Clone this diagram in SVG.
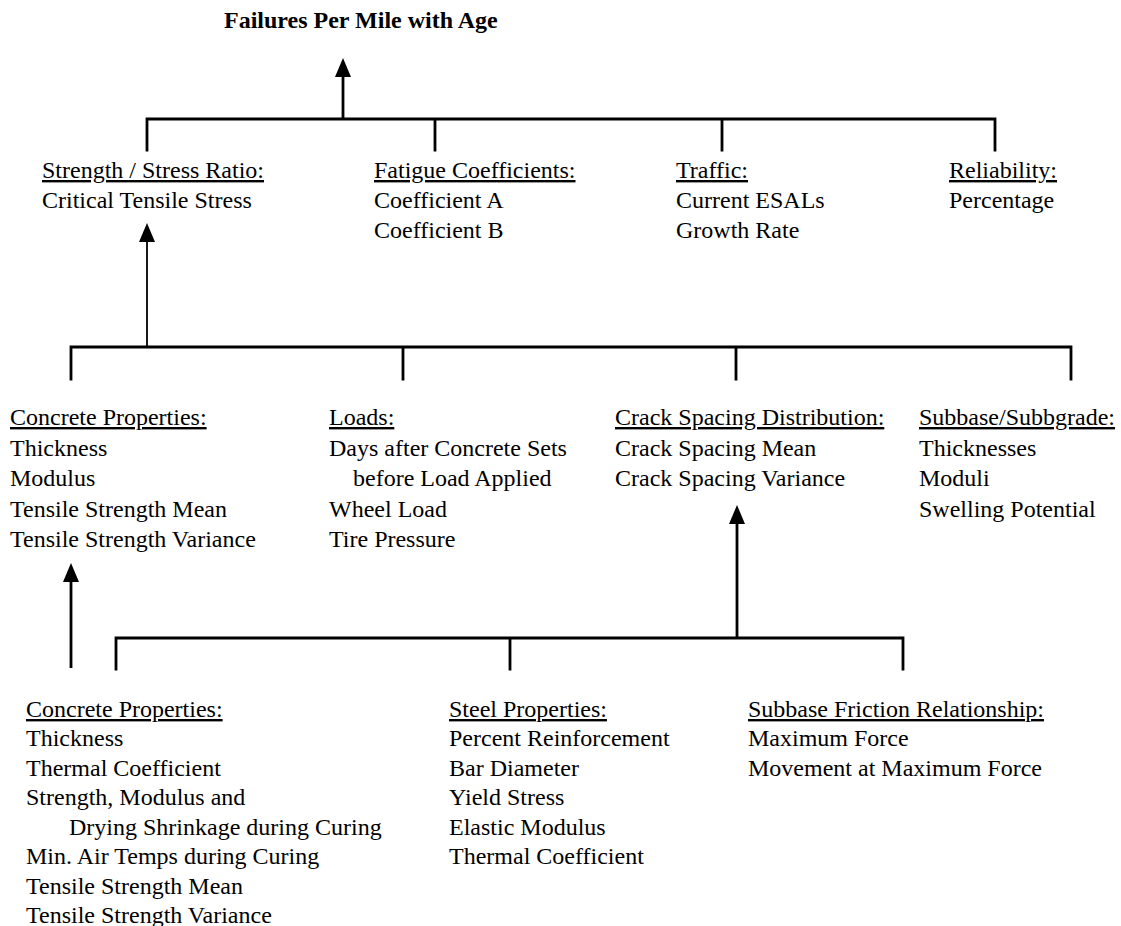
<svg xmlns="http://www.w3.org/2000/svg" width="1121" height="926" viewBox="0 0 1121 926">
<style>
text { font-family: "Liberation Serif", "Times New Roman", serif; font-size: 24px; fill: #000; }
.title { font-weight: bold; }
.hd { text-decoration: underline; }
.bar { fill: none; stroke: #000; stroke-width: 2.8; stroke-linejoin: miter; stroke-linecap: square; }
.arr { fill: none; stroke: #000; stroke-width: 2.8; marker-end: url(#ah); }
.arr.thin { stroke-width: 1.8; }
</style>
<defs>
<marker id="ah" markerUnits="userSpaceOnUse" markerWidth="20" markerHeight="16" refX="0" refY="8" orient="auto" overflow="visible">
<path d="M0,0 L19,8 L0,16 Z" fill="#000"/>
</marker>
</defs>
<rect width="1121" height="926" fill="#fff"/>
<g id="connectors">
<line class="arr" x1="343" y1="119" x2="343" y2="77"/>
<path class="bar" d="M147,150 V119 H995 V150 M435,119 V150 M722,119 V150"/>
<line class="arr thin" x1="147" y1="347" x2="147" y2="242"/>
<path class="bar" d="M71,379 V347 H1071 V379 M403,347 V379 M736,347 V379"/>
<line class="arr" x1="737" y1="638" x2="737" y2="524"/>
<line class="arr" x1="71" y1="668" x2="71" y2="582"/>
<path class="bar" d="M116,669 V638 H903 V669 M510,638 V669"/>
</g>
<g id="n-title"><text class="title" x="224" y="28">Failures Per Mile with Age</text></g>
<g id="n-strength">
<text class="hd" x="42" y="178">Strength / Stress Ratio:</text>
<text x="42" y="208">Critical Tensile Stress</text>
</g>
<g id="n-fatigue">
<text class="hd" x="374" y="178">Fatigue Coefficients:</text>
<text x="374" y="208">Coefficient A</text>
<text x="374" y="238">Coefficient B</text>
</g>
<g id="n-traffic">
<text class="hd" x="676" y="178">Traffic:</text>
<text x="676" y="208">Current ESALs</text>
<text x="676" y="238">Growth Rate</text>
</g>
<g id="n-reliability">
<text class="hd" x="949" y="178">Reliability:</text>
<text x="949" y="208">Percentage</text>
</g>
<g id="n-concrete1">
<text class="hd" x="10" y="425">Concrete Properties:</text>
<text x="10" y="456">Thickness</text>
<text x="10" y="486">Modulus</text>
<text x="10" y="517">Tensile Strength Mean</text>
<text x="10" y="547">Tensile Strength Variance</text>
</g>
<g id="n-loads">
<text class="hd" x="329" y="425">Loads:</text>
<text x="329" y="456">Days after Concrete Sets</text>
<text x="353" y="486">before Load Applied</text>
<text x="329" y="517">Wheel Load</text>
<text x="329" y="547">Tire Pressure</text>
</g>
<g id="n-crack">
<text class="hd" x="615" y="425">Crack Spacing Distribution:</text>
<text x="615" y="456">Crack Spacing Mean</text>
<text x="615" y="486">Crack Spacing Variance</text>
</g>
<g id="n-subgrade">
<text class="hd" x="919" y="425">Subbase/Subbgrade:</text>
<text x="919" y="456">Thicknesses</text>
<text x="919" y="486">Moduli</text>
<text x="919" y="517">Swelling Potential</text>
</g>
<g id="n-concrete2">
<text class="hd" x="26" y="717">Concrete Properties:</text>
<text x="26" y="746">Thickness</text>
<text x="26" y="776">Thermal Coefficient</text>
<text x="26" y="805">Strength, Modulus and</text>
<text x="69" y="835">Drying Shrinkage during Curing</text>
<text x="26" y="864">Min. Air Temps during Curing</text>
<text x="26" y="894">Tensile Strength Mean</text>
<text x="26" y="923">Tensile Strength Variance</text>
</g>
<g id="n-steel">
<text class="hd" x="449" y="717">Steel Properties:</text>
<text x="449" y="746">Percent Reinforcement</text>
<text x="449" y="776">Bar Diameter</text>
<text x="449" y="805">Yield Stress</text>
<text x="449" y="835">Elastic Modulus</text>
<text x="449" y="864">Thermal Coefficient</text>
</g>
<g id="n-friction">
<text class="hd" x="748" y="717">Subbase Friction Relationship:</text>
<text x="748" y="746">Maximum Force</text>
<text x="748" y="776">Movement at Maximum Force</text>
</g>
</svg>
